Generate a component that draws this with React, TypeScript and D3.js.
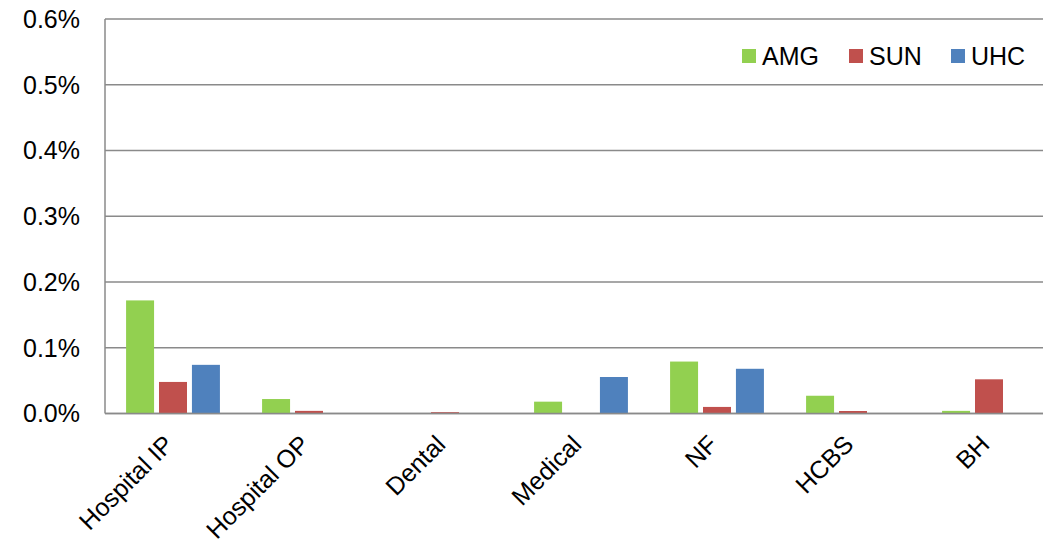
import React from "react";
import * as d3 from "d3";

// Values are in percent.
const categories = ["Hospital IP", "Hospital OP", "Dental", "Medical", "NF", "HCBS", "BH"];
const seriesNames = ["AMG", "SUN", "UHC"];
const amgValues = [0.172, 0.022, 0.0005, 0.018, 0.079, 0.027, 0.004];
const sunValues = [0.048, 0.004, 0.002, 0.0005, 0.01, 0.0038, 0.052];
const uhcValues = [0.074, 0.0004, 0, 0.0555, 0.068, 0, 0];
const yTicks = [0, 0.1, 0.2, 0.3, 0.4, 0.5, 0.6];

const colors: Record<string, string> = {
  AMG: "#92D050",
  SUN: "#C0504D",
  UHC: "#4F81BD",
};

const W = 1043;
const H = 545;
const left = 105;
const right = 1057;
const top = 19;
const bottom = 413.5;
const font = "'Liberation Sans', Arial, sans-serif";
const fontSize = 25;

export default function App() {
  const values: Record<string, number[]> = { AMG: amgValues, SUN: sunValues, UHC: uhcValues };

  const x0 = d3
    .scaleBand<string>()
    .domain(categories)
    .range([left, right])
    .paddingInner(0.31)
    .paddingOuter(0.155);
  const x1 = d3
    .scaleBand<string>()
    .domain(seriesNames)
    .range([0, x0.bandwidth()])
    .paddingInner(0.15);
  const y = d3.scaleLinear().domain([0, 0.6]).range([bottom, top]);

  const legendX = [742, 849, 951];

  return (
    <svg
      width={W}
      height={H}
      style={{ position: "absolute", left: 0, top: 0, background: "#fff" }}
      fontFamily={font}
    >
      {/* gridlines */}
      {yTicks.map((t) => (
        <line
          key={t}
          x1={left}
          x2={W}
          y1={y(t)}
          y2={y(t)}
          stroke="#8a8a8a"
          strokeWidth={1.5}
        />
      ))}
      {/* y axis line */}
      <line x1={left} x2={left} y1={top} y2={bottom} stroke="#8a8a8a" strokeWidth={1.5} />
      {yTicks.map((t) => (
        <text
          key={"l" + t}
          x={80}
          y={y(t)}
          dy="0.35em"
          textAnchor="end"
          fontSize={fontSize}
          fill="#000"
        >
          {t.toFixed(1) + "%"}
        </text>
      ))}
      {/* bars */}
      {categories.map((c, i) => (
        <g key={c} transform={`translate(${x0(c)},0)`}>
          {seriesNames.map((s) => {
            const v = values[s][i];
            return (
              <rect
                key={s}
                x={x1(s)}
                y={y(v)}
                width={x1.bandwidth()}
                height={bottom - y(v)}
                fill={colors[s]}
              />
            );
          })}
        </g>
      ))}
      {/* baseline on top of bars */}
      <line x1={left} x2={W} y1={bottom} y2={bottom} stroke="#8a8a8a" strokeWidth={1.5} />
      {/* category labels */}
      {categories.map((c) => {
        const cx = (x0(c) as number) + x0.bandwidth() / 2;
        return (
          <text
            key={c}
            transform={`translate(${cx + 2},446) rotate(-45)`}
            textAnchor="end"
            fontSize={fontSize}
            fill="#000"
          >
            {c}
          </text>
        );
      })}
      {/* legend */}
      {seriesNames.map((s, i) => (
        <g key={s}>
          <rect x={legendX[i]} y={49} width={14} height={14} fill={colors[s]} />
          <text x={legendX[i] + 20} y={56} dy="0.35em" fontSize={fontSize} fill="#000">
            {s}
          </text>
        </g>
      ))}
    </svg>
  );
}
